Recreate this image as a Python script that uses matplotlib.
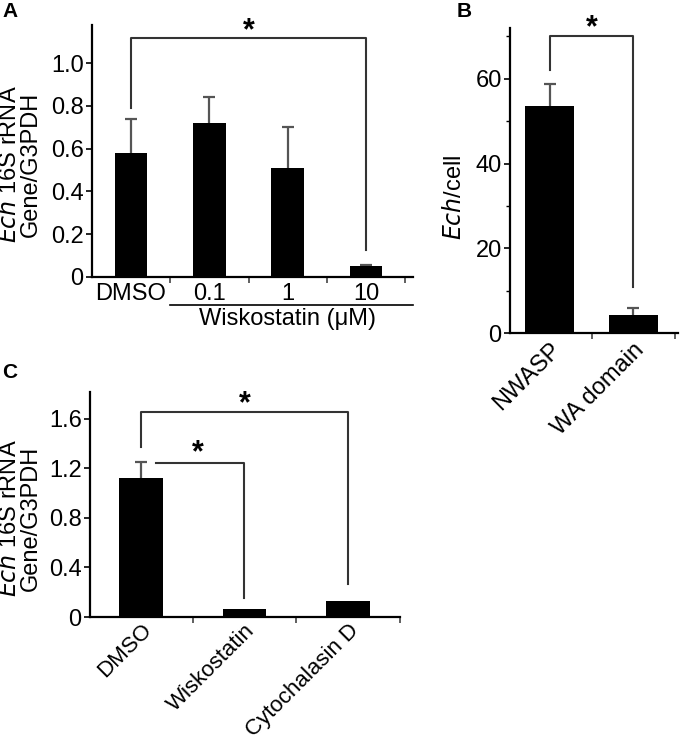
import matplotlib
matplotlib.use("Agg")
import matplotlib.pyplot as plt
import numpy as np

plt.rcParams['font.family'] = ['Liberation Sans', 'DejaVu Sans']

# ---- data ----
a_labels = ["DMSO", "0.1", "1", "10"]
a_vals = [0.58, 0.72, 0.51, 0.05]
a_err = [0.16, 0.12, 0.19, 0.005]

b_labels = ["NWASP", "WA domain"]
b_vals = [53.5, 4.3]
b_err = [5.2, 1.6]

c_labels = ["DMSO", "Wiskostatin", "Cytochalasin D"]
c_vals = [1.12, 0.065, 0.13]
c_err = [0.13, 0.0, 0.0]

W, H = 680, 747
fig = plt.figure(figsize=(W / 100, H / 100), dpi=100)

def ax_px(l, t, r, b):
    return fig.add_axes([l / W, 1 - b / H, (r - l) / W, (b - t) / H])

FS = 17
ECOL = '#555555'
BCOL = '#333333'

def style(ax, n, xlim, ylim):
    for s in ['top', 'right']:
        ax.spines[s].set_visible(False)
    for s in ['left', 'bottom']:
        ax.spines[s].set_linewidth(1.6)
    ax.set_xlim(*xlim)
    ax.set_ylim(*ylim)
    ax.set_xticks(np.arange(n))
    ax.set_xticks(np.arange(n) + 0.5, minor=True)
    ax.tick_params(axis='x', which='major', length=0, pad=4, labelsize=FS)
    ax.tick_params(axis='x', which='minor', length=4, width=1.2, color='#444444', direction='out')
    ax.tick_params(axis='y', which='major', length=4, width=1.2, labelsize=FS, pad=2)
    ax.tick_params(axis='y', which='minor', length=3, width=1.0)

def bars(ax, vals, errs, width):
    x = np.arange(len(vals))
    ax.bar(x, vals, width=width, color='black', zorder=2)
    up = np.array(errs)
    mask = up > 0.001
    _, caps, _ = ax.errorbar(x[mask], np.array(vals)[mask], yerr=[np.zeros(mask.sum()), up[mask]],
                             fmt='none', ecolor=ECOL, elinewidth=1.6, capsize=4, capthick=1.6, zorder=1)
    if len(caps) == 2:
        caps[0].set_visible(False)

def bracket(ax, pts):
    xs, ys = zip(*pts)
    ax.plot(xs, ys, color=BCOL, lw=1.5, clip_on=False, zorder=3)

def star(ax, x, y):
    ax.text(x, y, '*', ha='center', va='center', fontsize=22, fontweight='bold', clip_on=False)

# ---- Panel A ----
axA = ax_px(92, 25, 413, 277)
bars(axA, a_vals, a_err, 0.42)
style(axA, 4, (-0.498, 3.6), (0, 1.178))
axA.set_yticks([0, 0.2, 0.4, 0.6, 0.8, 1.0])
axA.set_yticklabels(['0', '0.2', '0.4', '0.6', '0.8', '1.0'])
axA.set_xticklabels(a_labels)
bracket(axA, [(0, 0.79), (0, 1.117), (3, 1.117), (3, 0.126)])
star(axA, 1.5, 1.15)
axA.plot([0.5, 3.6], [-0.13, -0.13], color='black', lw=1.2, clip_on=False)
axA.text(2.0, -0.195, 'Wiskostatin (\u03bcM)', ha='center', va='center', fontsize=FS)

fig.text(10 / W, 1 - 164 / H, r'$\mathit{Ech}$ 16S rRNA', rotation=90, ha='center', va='center', fontsize=FS)
fig.text(31 / W, 1 - 164 / H, 'Gene/G3PDH', rotation=90, ha='center', va='center', fontsize=FS)

# ---- Panel B ----
axB = ax_px(510, 28, 678, 333)
bars(axB, b_vals, b_err, 0.59)
style(axB, 2, (-0.48, 1.54), (0, 72.0))
axB.set_yticks([0, 20, 40, 60])
axB.set_yticks([10, 30, 50, 70], minor=True)
axB.set_xticklabels(b_labels, rotation=45, ha='right', rotation_mode='anchor')
bracket(axB, [(0, 62.1), (0, 70.2), (1, 70.2), (1, 10.9)])
star(axB, 0.5, 72.0)
fig.text(455 / W, 1 - 197 / H, r'$\mathit{Ech}$/cell', rotation=90, ha='center', va='center', fontsize=FS)

# ---- Panel C ----
axC = ax_px(90, 392, 400, 617)
bars(axC, c_vals, c_err, 0.42)
style(axC, 3, (-0.49, 2.29), (0, 1.818))
axC.set_yticks([0, 0.4, 0.8, 1.2, 1.6])
axC.set_yticklabels(['0', '0.4', '0.8', '1.2', '1.6'])
axC.set_xticklabels(c_labels, rotation=45, ha='right', rotation_mode='anchor', fontsize=16)
axC.tick_params(axis='x', which='major', pad=2)
bracket(axC, [(0, 1.37), (0, 1.66), (2, 1.66), (2, 0.27)])
bracket(axC, [(0.15, 1.245), (1, 1.245), (1, 0.15)])
star(axC, 1.0, 1.72)
star(axC, 0.55, 1.32)
fig.text(10 / W, 1 - 518 / H, r'$\mathit{Ech}$ 16S rRNA', rotation=90, ha='center', va='center', fontsize=FS)
fig.text(31 / W, 1 - 518 / H, 'Gene/G3PDH', rotation=90, ha='center', va='center', fontsize=FS)

# panel letters
fig.text(2 / W, 1 - 2 / H, 'A', fontsize=15, fontweight='bold', ha='left', va='top')
fig.text(457 / W, 1 - 2 / H, 'B', fontsize=15, fontweight='bold', ha='left', va='top')
fig.text(2 / W, 1 - 363 / H, 'C', fontsize=15, fontweight='bold', ha='left', va='top')

fig.savefig('out.png', dpi=100)
